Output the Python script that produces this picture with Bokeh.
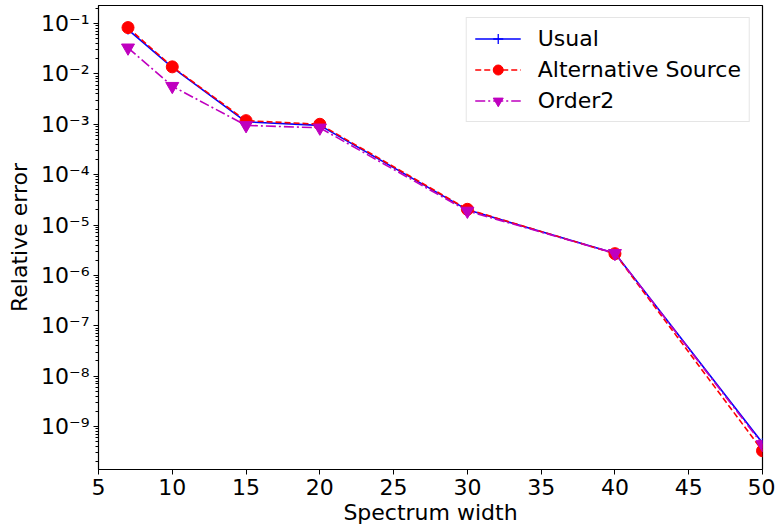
from bokeh.plotting import figure
from bokeh.models import Range1d, Legend, LegendItem, CustomJSTickFormatter, LogTicker, FixedTicker
from bokeh.embed import file_html
from bokeh.resources import INLINE

x = [7, 10, 15, 20, 30, 40, 50]
usual = [0.076, 0.0135, 0.00112, 0.00095, 2.0e-5, 2.75e-6, 4.7e-10]
alt_source = [0.083, 0.0138, 0.00118, 0.00100, 2.05e-5, 2.7e-6, 3.3e-10]
order2 = [0.033, 0.0057, 0.00095, 0.00085, 1.9e-5, 2.75e-6, 4.4e-10]
x_ticks = [5, 10, 15, 20, 25, 30, 35, 40, 45, 50]

FONT = "DejaVu Sans"
FS = "22px"

p = figure(width=775, height=529, y_axis_type="log",
           x_range=Range1d(5, 50), y_range=Range1d(1.4e-10, 0.228),
           output_backend="svg", toolbar_location=None,
           min_border_left=98, min_border_right=13, min_border_top=5, min_border_bottom=60)
p.frame_width = 664
p.frame_height = 464

p.grid.visible = False
p.outline_line_color = "black"
p.outline_line_width = 1.2
p.background_fill_color = "white"
p.border_fill_color = "white"

r1 = p.line(x, usual, line_color="#0000ff", line_width=1.6)
m1 = p.scatter(x, usual, marker="cross", size=10, line_color="#0000ff", line_width=1.3)
r2 = p.line(x, alt_source, line_color="#ff0000", line_width=1.6, line_dash="6 3")
m2 = p.scatter(x, alt_source, marker="circle", size=12, fill_color="#ff0000", line_color="#ff0000")
r3 = p.line(x, order2, line_color="#bf00bf", line_width=1.6, line_dash="10 3 2 3")
m3 = p.scatter(x, order2, marker="inverted_triangle", size=13, fill_color="#bf00bf", line_color="#bf00bf")

p.xaxis.ticker = FixedTicker(ticks=x_ticks)
p.yaxis.ticker = LogTicker(num_minor_ticks=10)
p.yaxis.formatter = CustomJSTickFormatter(code="""
const sup = {'-':'\u207b','0':'\u2070','1':'\u00b9','2':'\u00b2','3':'\u00b3','4':'\u2074','5':'\u2075','6':'\u2076','7':'\u2077','8':'\u2078','9':'\u2079'};
const e = Math.round(Math.log10(tick));
return '10' + String(e).split('').map(c => sup[c]).join('');
""")

for ax in (p.xaxis[0], p.yaxis[0]):
    ax.axis_line_color = "black"
    ax.major_tick_line_color = "black"
    ax.major_tick_out = 5
    ax.major_tick_in = 0
    ax.minor_tick_out = 3
    ax.minor_tick_in = 0
    ax.major_label_text_font = FONT
    ax.major_label_text_font_size = FS
    ax.major_label_text_color = "black"
    ax.axis_label_text_font = FONT
    ax.axis_label_text_font_size = FS
    ax.axis_label_text_font_style = "normal"
    ax.axis_label_text_color = "black"
p.xaxis.minor_tick_line_color = None
p.yaxis.minor_tick_line_color = "black"

p.xaxis.axis_label = "Spectrum width"
p.yaxis.axis_label = "Relative error"
p.xaxis.major_label_standoff = 4
p.xaxis.axis_label_standoff = 2
p.yaxis.major_label_standoff = 4
p.yaxis.axis_label_standoff = 6

legend = Legend(items=[
    LegendItem(label="Usual", renderers=[r1, m1]),
    LegendItem(label="Alternative Source", renderers=[r2, m2]),
    LegendItem(label="Order2", renderers=[r3, m3]),
], location="top_right")
legend.margin = 12
legend.padding = 8
legend.spacing = 6
legend.label_text_font = FONT
legend.label_text_font_size = FS
legend.label_text_color = "black"
legend.label_height = 25
legend.glyph_height = 25
legend.glyph_width = 46
legend.label_standoff = 17
legend.border_line_color = "#cccccc"
legend.border_line_width = 1
legend.background_fill_alpha = 0.8
p.add_layout(legend)

open("out.html", "w").write(file_html(p, INLINE))
